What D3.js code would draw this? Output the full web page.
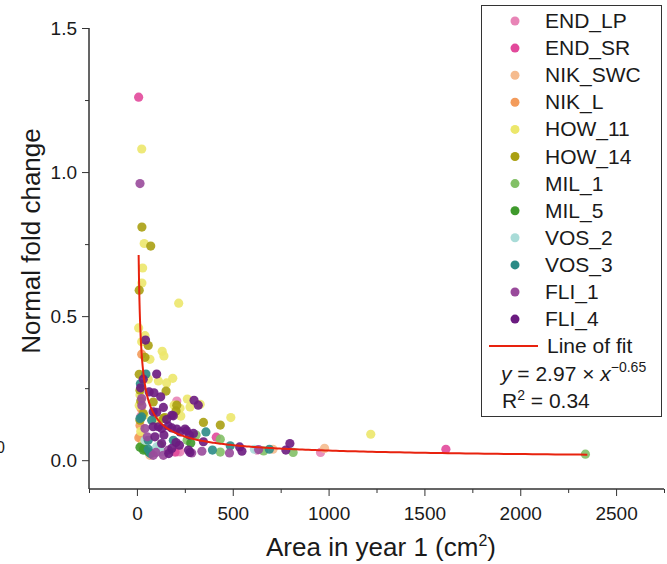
<!DOCTYPE html>
<html>
<head>
<meta charset="utf-8">
<script src="https://cdn.jsdelivr.net/npm/d3@7"></script>
<style>
  body { margin: 0; background: #fff; }
  text { font-family: "Liberation Sans", Arial, sans-serif; fill: #1a1a1a; }
</style>
</head>
<body>
<svg></svg>
<script>
// 数据: [面积 cm², 倍数变化]
var endLP = [[208,0.205],[958,0.027],[211,0.029],[627,0.035],[225,0.029],[21,0.153],[26,0.069],[120,0.038]];
var endSR = [[9,1.26],[1612,0.038],[414,0.08],[199,0.028]];
var nikSWC = [[979,0.041],[710,0.038],[16,0.083],[68,0.017]];
var nikL = [[25,0.368],[21,0.18],[10,0.078],[16,0.12]];
var how11 = [[25,1.08],[38,0.752],[30,0.667],[26,0.615],[218,0.545],[9,0.459],[42,0.432],[25,0.411],
  [132,0.378],[141,0.362],[68,0.35],[59,0.281],[112,0.275],[155,0.268],[187,0.284],[263,0.212],
  [330,0.194],[194,0.191],[225,0.18],[229,0.153],[490,0.148],[1220,0.09],[277,0.185],[37,0.156],
  [26,0.052],[99,0.139],[16,0.226],[12,0.19],[20,0.1]];
var how14 = [[26,0.809],[72,0.743],[12,0.59],[59,0.398],[42,0.357],[12,0.298],[16,0.243],[152,0.24],
  [85,0.202],[204,0.171],[33,0.162],[145,0.148],[347,0.131],[435,0.122],[208,0.191],[138,0.145],[16,0.139],
  [20,0.205]];
var mil1 = [[309,0.087],[435,0.073],[661,0.032],[815,0.027],[2340,0.021],[120,0.052],[435,0.028],[262,0.069]];
var mil5 = [[281,0.06],[37,0.041],[33,0.035],[59,0.029],[16,0.045]];
var vos2 = [[129,0.029],[103,0.046],[613,0.038],[42,0.069]];
var vos3 = [[47,0.299],[25,0.15],[77,0.139],[360,0.098],[394,0.035],[59,0.038],[487,0.05],[691,0.038],
  [16,0.145],[59,0.069],[190,0.069],[71,0.023],[18,0.265]];
var fli1 = [[16,0.96],[25,0.214],[99,0.027],[483,0.025],[635,0.037],[42,0.11],[54,0.081],[164,0.035],
  [138,0.017],[85,0.017],[339,0.031],[286,0.025],[26,0.19]];
var fli4 = [[45,0.417],[103,0.299],[33,0.281],[19,0.251],[64,0.237],[89,0.234],[124,0.22],[298,0.208],
  [138,0.183],[85,0.168],[190,0.154],[103,0.166],[182,0.156],[155,0.141],[112,0.116],[164,0.119],
  [182,0.112],[208,0.108],[251,0.108],[225,0.098],[274,0.087],[141,0.087],[347,0.064],[129,0.058],
  [204,0.061],[277,0.027],[166,0.023],[536,0.046],[548,0.031],[777,0.035],[798,0.058],[320,0.191],
  [85,0.116],[129,0.11],[259,0.102],[295,0.093],[94,0.081],[222,0.052],[182,0.041],[269,0.035]];

var seriesNames = ["END_LP","END_SR","NIK_SWC","NIK_L","HOW_11","HOW_14","MIL_1","MIL_5","VOS_2","VOS_3","FLI_1","FLI_4"];
var seriesData = [endLP,endSR,nikSWC,nikL,how11,how14,mil1,mil5,vos2,vos3,fli1,fli4];
var seriesColors = ["#e884b6","#e2499b","#f5bb8e","#f39b5b","#ece76b","#aaa012","#82c066","#3f9a2c","#a9dcd8","#2b8b86","#994a9b","#6b1b80"];

var xTicks = [0,500,1000,1500,2000,2500];
var xMinorTicks = [-250,250,750,1250,1750,2250,2750];
var yTicks = [0,0.5,1.0,1.5];
var yMinorTicks = [0.25,0.75,1.25];

// 拟合曲线 y = a * x^b
var fitA = 2.97, fitB = -0.65, fitR2 = 0.34;
var fitFrom = 9, fitTo = 2350;

var svg = d3.select('svg')
  .attr('width', 667)
  .attr('height', 564);

// 比例尺
var xScale = d3.scaleLinear().domain([-250, 2750]).range([89, 664]);
var yScale = d3.scaleLinear().domain([-0.1, 1.5]).range([489, 28]);

// 坐标轴
var xAxis = d3.axisBottom(xScale).tickValues(xTicks).tickSize(7).tickPadding(11).tickFormat(d3.format('d'));
var xAxisMinor = d3.axisBottom(xScale).tickValues(xMinorTicks).tickSize(4).tickFormat('');
var yAxis = d3.axisLeft(yScale).tickValues(yTicks).tickSize(7).tickPadding(5).tickFormat(d3.format('.1f'));
var yAxisMinor = d3.axisLeft(yScale).tickValues(yMinorTicks).tickSize(4).tickFormat('');

svg.append('g').attr('class', 'xa').attr('transform', 'translate(0,489)').call(xAxisMinor);
svg.append('g').attr('class', 'xa').attr('transform', 'translate(0,489)').call(xAxis);
svg.append('g').attr('class', 'ya').attr('transform', 'translate(89,0)').call(yAxisMinor);
svg.append('g').attr('class', 'ya').attr('transform', 'translate(89,0)').call(yAxis);

svg.selectAll('.domain').attr('stroke', '#333');
svg.selectAll('.tick line').attr('stroke', '#333');
svg.selectAll('.tick text').style('font-family', '"Liberation Sans", Arial, sans-serif')
  .style('font-size', '19px').attr('fill', '#1a1a1a');
// 去掉轴两端的外伸刻度
svg.selectAll('.xa .domain').attr('d', 'M89,0H664');
svg.selectAll('.ya .domain').attr('d', 'M0,28V489');

// 散点
seriesData.forEach(function(arr, i) {
  svg.append('g')
    .selectAll('circle')
    .data(arr)
    .enter()
    .append('circle')
    .attr('cx', d => xScale(d[0]))
    .attr('cy', d => yScale(d[1]))
    .attr('r', 4.6)
    .attr('fill', seriesColors[i])
    .attr('fill-opacity', 0.9);
});

// 拟合线
var fitX = d3.range(0, 301).map(i => fitFrom * Math.pow(fitTo / fitFrom, i / 300));
var line = d3.line()
  .x(d => xScale(d))
  .y(d => yScale(fitA * Math.pow(d, fitB)));
svg.append('path')
  .datum(fitX)
  .attr('d', line)
  .attr('fill', 'none')
  .attr('stroke', '#e8220e')
  .attr('stroke-width', 2);

// 轴名
svg.append('text')
  .attr('x', 381)
  .attr('y', 556)
  .style('text-anchor', 'middle')
  .style('font-size', '26px')
  .html('Area in year 1 (cm<tspan dy="-10" font-size="16px">2</tspan><tspan dy="10">)</tspan>');
svg.append('text')
  .attr('transform', 'translate(40,241) rotate(-90)')
  .style('text-anchor', 'middle')
  .style('font-size', '26px')
  .text('Normal fold change');

// 左侧残留文字
svg.append('text')
  .attr('x', -4)
  .attr('y', 453)
  .style('font-size', '16px')
  .text('0');

// 图例
svg.append('rect')
  .attr('x', 481.5)
  .attr('y', 5.5)
  .attr('width', 180)
  .attr('height', 411)
  .attr('fill', '#fff')
  .attr('stroke', '#333')
  .attr('stroke-width', 1);

seriesNames.forEach(function(name, i) {
  var cy = 21 + i * 27.1;
  svg.append('circle')
    .attr('cx', 515)
    .attr('cy', cy)
    .attr('r', 4.5)
    .attr('fill', seriesColors[i]);
  svg.append('text')
    .attr('x', 545)
    .attr('y', cy + 7)
    .style('font-size', '21px')
    .text(name);
});

svg.append('line')
  .attr('x1', 489).attr('x2', 538)
  .attr('y1', 346).attr('y2', 346)
  .attr('stroke', '#e8220e')
  .attr('stroke-width', 2);
svg.append('text')
  .attr('x', 547)
  .attr('y', 353)
  .style('font-size', '21px')
  .text('Line of fit');

svg.append('text')
  .attr('x', 501)
  .attr('y', 381)
  .style('font-size', '21px')
  .html('<tspan font-style="italic">y</tspan> = ' + fitA.toFixed(2) + ' × <tspan font-style="italic">x</tspan><tspan dy="-9" font-size="14px">−' + Math.abs(fitB).toFixed(2) + '</tspan>');

svg.append('text')
  .attr('x', 502)
  .attr('y', 408)
  .style('font-size', '21px')
  .html('R<tspan dy="-8" font-size="14px">2</tspan><tspan dy="8"> = ' + fitR2.toFixed(2) + '</tspan>');
</script>
</body>
</html>
